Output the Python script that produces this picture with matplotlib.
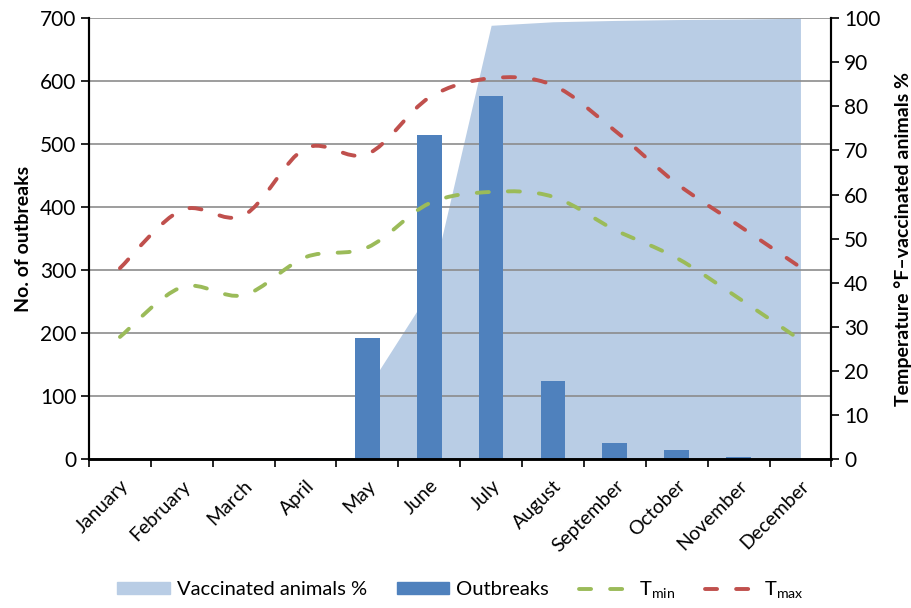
import numpy as np
import matplotlib
matplotlib.use("Agg")
import matplotlib.pyplot as plt
from matplotlib.path import Path
from matplotlib.patches import PathPatch, Patch
from matplotlib.lines import Line2D

plt.rcParams['font.family'] = ['Lato', 'DejaVu Sans']
plt.rcParams['mathtext.fontset'] = 'custom'
plt.rcParams['mathtext.rm'] = 'Lato'
plt.rcParams['mathtext.it'] = 'Lato'

# data
months = ['January', 'February', 'March', 'April', 'May', 'June', 'July',
          'August', 'September', 'October', 'November', 'December']
outbreaks = [0, 0, 0, 2, 192, 514, 576, 124, 25, 15, 4, 0]
vaccinated = [np.nan, np.nan, np.nan, np.nan, 16, 38, 98.4, 99.2, 99.5, 99.7, 99.8, 100]
t_min = [27.7, 39, 37.2, 45.8, 48, 58, 60.6, 59.5, 52, 45.6, 36.5, 27]
t_max = [43.3, 56.5, 55.3, 70.5, 69.2, 82, 86.4, 84.8, 74.5, 62.5, 53, 43.5]

c_area = '#B9CDE5'
c_bar = '#4F81BD'
c_min = '#9BBB59'
c_max = '#C0504D'
dash = (0, (3.1, 4.9))


def smooth_path(x, y):
    # Excel-like smoothed line: cubic bezier through the points
    pts = np.column_stack([x, y])
    ext = np.vstack([pts[0], pts, pts[-1]])
    verts = [pts[0]]
    codes = [Path.MOVETO]
    for i in range(len(pts) - 1):
        p0, p1, p2, p3 = ext[i], ext[i + 1], ext[i + 2], ext[i + 3]
        verts += [p1 + (p2 - p0) / 6, p2 - (p3 - p1) / 6, p2]
        codes += [Path.CURVE4] * 3
    return Path(verts, codes)


fig = plt.figure(figsize=(9.12, 6.08), dpi=100)
ax = fig.add_axes([0.0976, 0.245, 0.814, 0.725])
ax2 = ax.twinx()

x = np.arange(len(months))

ax.set_xlim(-0.5, 11.5)
ax.set_ylim(0, 700)
ax2.set_ylim(0, 100)

# vaccinated area (right scale), drawn on ax to control layering
ax.fill_between(x, 0, vaccinated, transform=ax2.transData,
                color=c_area, lw=0, zorder=0.3)

ax.set_axisbelow(True)
ax.yaxis.grid(True, color='#8C8C8C', lw=1.2)
ax.set_yticks(np.arange(0, 701, 100))

ax.bar(x, outbreaks, width=0.4, color=c_bar, zorder=2)

for vals, col in [(t_min, c_min), (t_max, c_max)]:
    pp = PathPatch(smooth_path(x, vals), fill=False, edgecolor=col, lw=2.8,
                   linestyle=dash, capstyle='round', transform=ax2.transData,
                   zorder=3)
    ax.add_patch(pp)

ax2.set_yticks(np.arange(0, 101, 10))

ax.set_xticks(np.arange(-0.5, 12, 1), minor=False)
ax.set_xticklabels([])
ax.set_xticks(x, minor=True)
ax.set_xticklabels(months, minor=True, rotation=45, ha='right',
                   rotation_mode='anchor', fontsize=14)
ax.tick_params(axis='x', which='minor', length=0, pad=13)
ax.tick_params(axis='x', which='major', length=6, width=1.2, direction='out')

for a in (ax, ax2):
    a.spines['top'].set_visible(False)
    a.spines['left'].set_linewidth(1.5)
    a.spines['right'].set_linewidth(1.5)
    a.spines['bottom'].set_linewidth(1.8)
ax.tick_params(axis='y', length=6, width=1.2, labelsize=15, pad=3)
ax2.tick_params(axis='y', length=6, width=1.2, labelsize=15, pad=3)

ax.set_ylabel('No. of outbreaks', fontsize=14, fontweight='bold', labelpad=6)
ax2.set_ylabel('Temperature °F–vaccinated animals %', fontsize=14,
               fontweight='bold', labelpad=10)

handles = [Patch(color=c_area), Patch(color=c_bar),
           Line2D([], [], color=c_min, lw=2.8, linestyle=dash,
                  dash_capstyle='round'),
           Line2D([], [], color=c_max, lw=2.8, linestyle=dash,
                  dash_capstyle='round')]
labels = ['Vaccinated animals %', 'Outbreaks', r'T$_{\mathrm{min}}$',
          r'T$_{\mathrm{max}}$']
fig.legend(handles, labels, loc='center', bbox_to_anchor=(0.505, 0.03),
           ncol=4, frameon=False, fontsize=14.5, handlelength=2.6,
           handleheight=0.55, handletextpad=0.35, columnspacing=1.5)

fig.savefig('out.png', dpi=100)
